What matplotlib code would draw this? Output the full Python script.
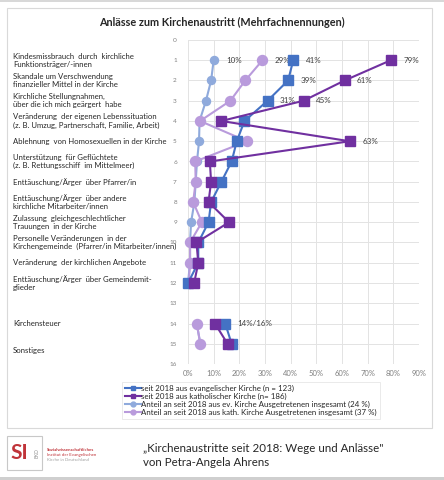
import numpy as np
import matplotlib
matplotlib.use("Agg")
import matplotlib.pyplot as plt
import matplotlib.transforms as mtransforms
from matplotlib.patches import Rectangle
from matplotlib.lines import Line2D

plt.rcParams['font.family'] = ['Lato', 'DejaVu Sans']

nan = np.nan
rows = list(range(1, 16))
categories = [
    "Kindesmissbrauch  durch  kirchliche\nFunktionsträger/-innen",
    "Skandale um Verschwendung\nfinanzieller Mittel in der Kirche",
    "Kirchliche Stellungnahmen,\nüber die ich mich geärgert  habe",
    "Veränderung  der eigenen Lebenssituation\n(z. B. Umzug, Partnerschaft, Familie, Arbeit)",
    "Ablehnung  von Homosexuellen in der Kirche",
    "Unterstützung  für Geflüchtete\n(z. B. Rettungsschiff  im Mittelmeer)",
    "Enttäuschung/Ärger  über Pfarrer/in",
    "Enttäuschung/Ärger  über andere\nkirchliche Mitarbeiter/innen",
    "Zulassung  gleichgeschlechtlicher\nTrauungen  in der Kirche",
    "Personelle Veränderungen  in der\nKirchengemeinde  (Pfarrer/in Mitarbeiter/innen)",
    "Veränderung  der kirchlichen Angebote",
    "Enttäuschung/Ärger  über Gemeindemit-\nglieder",
    "",
    "Kirchensteuer",
    "Sonstiges",
]
label_rows = [1, 2, 3, 4, 5, 6, 7, 8, 9, 10, 11, 12, 13, 14, 15]

ev = [41, 39, 31, 22, 19, 17, 13, 9, 8, 4, 4, 0, nan, 14.5, 17]
kath = [79, 61, 45, 13, 63, 8.5, 9, 8, 16, 3.3, 4, 2.4, nan, 10.5, 15.4]
ev_all = [10, 9, 7, 4.5, 4.3, 3.5, 3, 2.5, 1.2, 0.8, 0.8, 0, nan, 3.4, 4.8]
kath_all = [29, 22.3, 16.5, 4.7, 23, 2.8, 3, 2, 5.4, 0.8, 0.8, 0.3, nan, 3.4, 4.8]

series_names = [
    "seit 2018 aus evangelischer Kirche (n = 123)",
    "seit 2018 aus katholischer Kirche (n= 186)",
    "Anteil an seit 2018 aus ev. Kirche Ausgetretenen insgesamt (24 %)",
    "Anteil an seit 2018 aus kath. Kirche Ausgetretenen insgesamt (37 %)",
]
colors = ["#4472C4", "#7030A0", "#8FAADC", "#B99BDC"]

# data labels: (series index, row, text)
data_labels = [
    (2, 1, "10%"), (3, 1, "29%"), (0, 1, "41%"), (1, 1, "79%"),
    (0, 2, "39%"), (1, 2, "61%"), (0, 3, "31%"), (1, 3, "45%"),
    (1, 5, "63%"), (0, 14, "14%/16%"),
]

xticks = list(range(0, 100, 10))
xticklabels = [f"{v}%" for v in xticks]
yticks = list(range(0, 17))

fig = plt.figure(figsize=(4.44, 4.80), dpi=100)

# outer frame
fig.patches.append(Rectangle((7/444, 1 - 428/480), 425/444, 420/480, transform=fig.transFigure,
                             fill=False, edgecolor="#d9d9d9", linewidth=0.8))
# top/bottom gray bands
fig.patches.append(Rectangle((0, 0), 1, 3/480, transform=fig.transFigure,
                             facecolor="#cfcfcf", edgecolor="none"))
fig.patches.append(Rectangle((0, 1 - 2/480), 1, 2/480, transform=fig.transFigure,
                             facecolor="#d8d8d8", edgecolor="none"))

ax = fig.add_axes([188/444, 1 - 364/480, 231/444, 324/480])
ax.set_xlim(0, 90)
ax.set_ylim(16, 0)
ax.set_xticks(xticks)
ax.set_xticklabels(xticklabels)
ax.set_yticks(yticks)
ax.grid(True, color="#e3e3e3", linewidth=0.7)
ax.set_axisbelow(True)
for s in ax.spines.values():
    s.set_visible(False)
ax.tick_params(length=0, labelsize=5.5, colors="#7f7f7f", pad=4)
ax.tick_params(axis='y', labelsize=4.6, pad=8)

series = [ev, kath, ev_all, kath_all]
markers = ["s", "s", "o", "o"]
msizes = [6.8, 6.8, 5.8, 7.2]
order = [2, 3, 0, 1]
for i in order:
    ax.plot(series[i], rows, color=colors[i], marker=markers[i], markersize=msizes[i],
            linewidth=1.5, clip_on=False, zorder=3 + (i < 2))

for si, r, t in data_labels:
    ax.annotate(t, (series[si][r - 1], r), xytext=(9, 0), textcoords="offset points",
                fontsize=5.8, color="#404040", va="center", ha="left")

# category labels
lab_tr = mtransforms.blended_transform_factory(fig.transFigure, ax.transData)
for t, r in zip(categories, label_rows):
    if not t:
        continue
    off = 0.35 if r == 15 else 0.0
    ax.text(13/444, r + off, t, transform=lab_tr, ha="left", va="center",
            fontsize=5.6, color="#262626", linespacing=1.15, clip_on=False)

fig.text(222/444, 1 - 22/480, "Anlässe zum Kirchenaustritt (Mehrfachnennungen)",
         ha="center", va="center", fontsize=7.8, fontweight="bold", color="#262626")

# legend
handles = [Line2D([0], [0], color=colors[i], marker=markers[i], markersize=3.5, linewidth=1.5)
           for i in range(4)]
leg = fig.legend(handles, series_names, loc="upper left", bbox_to_anchor=(122/444, 1 - 382/480),
                 fontsize=5.7, frameon=True, fancybox=False, edgecolor="#e0e0e0",
                 handlelength=2.0, handletextpad=0.1, borderpad=0.35, labelspacing=0.1,
                 borderaxespad=0)
leg.get_frame().set_linewidth(0.6)
for t in leg.get_texts():
    t.set_color("#262626")

# logo
fig.patches.append(Rectangle((7/444, 1 - 470/480), 35/444, 34/480, transform=fig.transFigure,
                             fill=False, edgecolor="#c8c8c8", linewidth=0.8))
fig.text(10/444, 1 - 453/480, "SI", ha="left", va="center", fontsize=15, fontweight="bold",
         color="#C0343A")
fig.text(37/444, 1 - 453/480, "EKD", ha="center", va="center", fontsize=3.5, rotation=90,
         color="#8c8c8c")
fig.text(47/444, 1 - 450/480, "Sozialwissenschaftliches", ha="left", va="center", fontsize=3.2,
         color="#C0343A", fontweight="bold")
fig.text(47/444, 1 - 455/480, "Institut der Evangelischen", ha="left", va="center", fontsize=3.2,
         color="#C0343A")
fig.text(47/444, 1 - 460/480, "Kirche in Deutschland", ha="left", va="center", fontsize=3.2,
         color="#a0a0a0")

fig.text(143/444, 1 - 448/480, "„Kirchenaustritte seit 2018: Wege und Anlässe\"", ha="left",
         va="center", fontsize=8.3, color="#262626")
fig.text(143/444, 1 - 463/480, "von Petra-Angela Ahrens", ha="left", va="center", fontsize=8.3,
         color="#262626")

fig.savefig("out.png", dpi=100, facecolor="white")
